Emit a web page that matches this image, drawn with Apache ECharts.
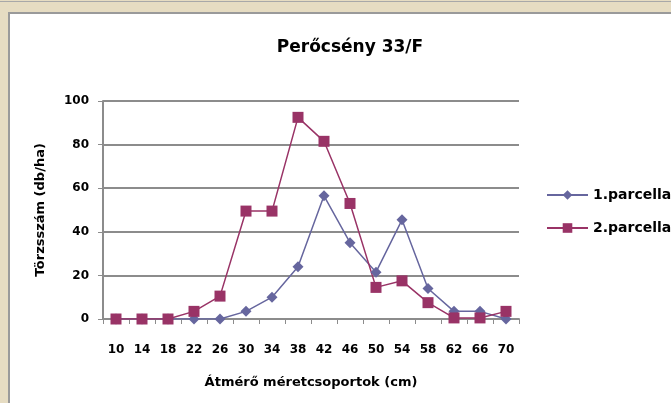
<!DOCTYPE html>
<html>
<head>
<meta charset="utf-8">
<script src="https://cdn.jsdelivr.net/npm/echarts@6/dist/echarts.min.js"></script>
<style>
  html, body { margin: 0; padding: 0; }
  body {
    width: 671px; height: 403px; overflow: hidden; position: relative;
    background: #e6dcc2;
  }
  #frame {
    position: absolute; left: 8px; top: 12px; width: 663px; height: 391px;
    border-left: 2px solid #9a9a9a; border-top: 2px solid #9a9a9a;
    background: #fff;
  }
  #topline {
    position: absolute; left: 0; top: 1px; width: 671px; height: 1px; background: #a8a8a8;
  }
  #main { position: absolute; left: 0; top: 0; width: 663px; height: 391px; }
</style>
</head>
<body>
<div id="topline"></div>
<div id="frame"><div id="main"></div></div>
<script>
// diameter classes (cm)
var categories = ['10', '14', '18', '22', '26', '30', '34', '38', '42', '46', '50', '54', '58', '62', '66', '70']
// stems per hectare
var parcel1 = [0, 0, 0, 0, 0, 3.5, 10, 24, 56.5, 35, 21.5, 45.5, 14, 3.5, 3.5, 0]
var parcel2 = [0, 0, 0, 3.5, 10.5, 49.5, 49.5, 92.5, 81.5, 53, 14.5, 17.5, 7.5, 0.5, 0.5, 3.5]
var seriesNames = ['1.parcella', '2.parcella']

var myChart = echarts.init(document.getElementById('main'))
var font = 'DejaVu Sans'

var option = {
  animation: false,
  title: {
    text: 'Perőcsény 33/F',
    left: 335,
    textAlign: 'center',
    top: 20,
    textStyle: { fontFamily: font, fontSize: 17, fontWeight: 'bold', color: '#000' }
  },
  legend: {
    orient: 'vertical',
    left: 531,
    top: 169,
    itemGap: 19,
    itemWidth: 41,
    itemHeight: 12,
    textStyle: { fontFamily: font, fontSize: 14, fontWeight: 'bold', color: '#000' },
    data: seriesNames
  },
  grid: {
    left: 93,
    right: 154,
    top: 87,
    bottom: 86,
    containLabel: false
  },
  xAxis: {
    type: 'category',
    boundaryGap: true,
    data: categories,
    name: 'Átmérő méretcsoportok (cm)',
    nameLocation: 'middle',
    nameGap: 57,
    nameTextStyle: { fontFamily: font, fontSize: 13, fontWeight: 'bold', color: '#000' },
    axisLine: { lineStyle: { color: '#8c8c8c', width: 2 } },
    axisTick: { show: true, interval: 0, length: 5, lineStyle: { color: '#8c8c8c' } },
    axisLabel: { interval: 0, margin: 25, fontFamily: font, fontSize: 12, fontWeight: 'bold', color: '#000' }
  },
  yAxis: {
    type: 'value',
    min: 0,
    max: 100,
    interval: 20,
    name: 'Törzsszám (db/ha)',
    nameLocation: 'middle',
    nameGap: 56,
    nameRotate: 90,
    nameTextStyle: { fontFamily: font, fontSize: 13, fontWeight: 'bold', color: '#000' },
    axisLine: { show: true, lineStyle: { color: '#8c8c8c', width: 2 } },
    axisTick: { show: true, length: 5, lineStyle: { color: '#8c8c8c' } },
    axisLabel: { margin: 14, fontFamily: font, fontSize: 12, fontWeight: 'bold', color: '#000' },
    splitLine: { lineStyle: { color: '#8c8c8c', width: 2 } }
  },
  series: [
    {
      name: seriesNames[0],
      type: 'line',
      data: parcel1,
      symbol: 'diamond',
      symbolSize: 11,
      itemStyle: { color: '#66669e' },
      lineStyle: { color: '#66669e', width: 1.5 }
    },
    {
      name: seriesNames[1],
      type: 'line',
      data: parcel2,
      symbol: 'rect',
      symbolSize: 11,
      itemStyle: { color: '#993366' },
      lineStyle: { color: '#993366', width: 1.5 }
    }
  ]
}
option && myChart.setOption(option)
</script>
</body>
</html>
